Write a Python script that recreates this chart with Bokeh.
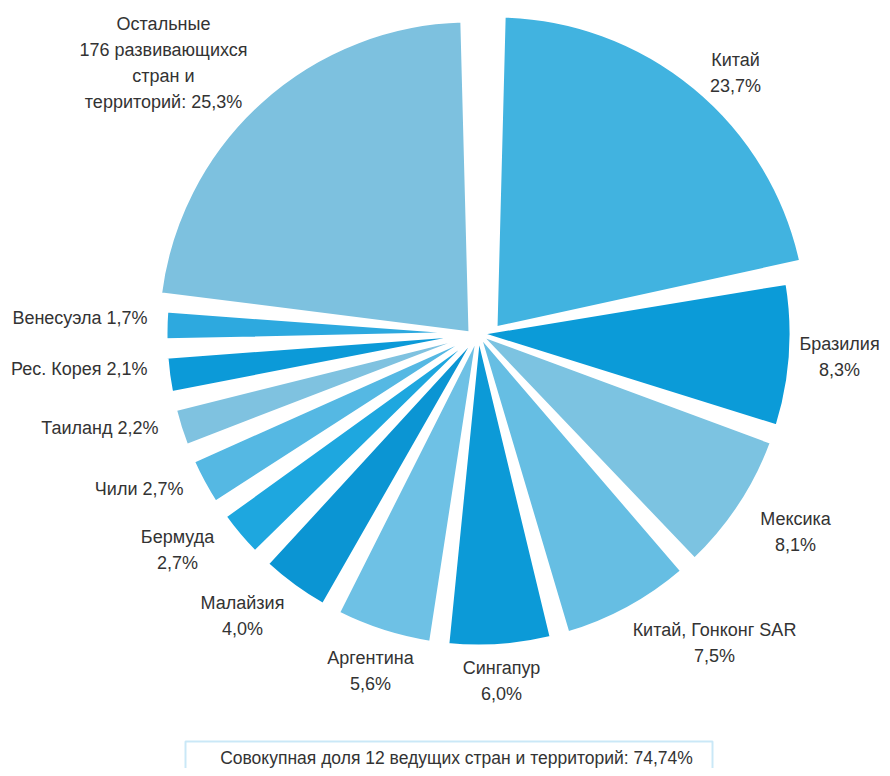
import math
from bokeh.plotting import figure
from bokeh.models import Range1d, ColumnDataSource, BoxAnnotation
from bokeh.core.properties import value
from bokeh.embed import file_html
from bokeh.resources import INLINE

# ---- data ----
countries = ["Китай", "Бразилия", "Мексика", "Китай, Гонконг SAR", "Сингапур",
             "Аргентина", "Малайзия", "Бермуда", "Чили", "Таиланд",
             "Рес. Корея", "Венесуэла", "Остальные 176 развивающихся стран и территорий"]
shares = [23.7, 8.3, 8.1, 7.5, 6.0, 5.6, 4.0, 2.7, 2.7, 2.2, 2.1, 1.7, 25.3]
label_texts = ["Китай\n23,7%", "Бразилия\n8,3%", "Мексика\n8,1%",
               "Китай, Гонконг SAR\n7,5%", "Сингапур\n6,0%", "Аргентина\n5,6%",
               "Малайзия\n4,0%", "Бермуда\n2,7%", "Чили 2,7%", "Таиланд 2,2%",
               "Рес. Корея 2,1%", "Венесуэла 1,7%",
               "Остальные\n176 развивающихся\nстран и\nтерриторий: 25,3%"]
footer_text = "Совокупная доля 12 ведущих стран и территорий: 74,74%"

# ---- styles / layout ----
colors = ["#41b3e0", "#0b9bd8", "#7cc3e1", "#66bee3", "#0c9ad7", "#6ec1e5",
          "#0b95d3", "#1ea7df", "#55b8e3", "#7fc2e0", "#0c9ad8", "#2da9df", "#7dc1df"]
shift_x = [17, 0, 0, 0, 0, 0, 0, 0, 0, 0, 0, 0, -8]
shift_y = [5, 0, 0, 0, 0, 0, 0, 0, 0, 0, 0, 0, 0]
W, H = 882, 768
def px(X):
    return X
def py(Y):
    return -Y
CX, CY, R = px(478), py(333), 313
GAP = 3.0  # degrees between slices

# label anchors (screen px) and alignment
label_pos = [(735, 72, "center"), (839, 356, "center"), (795, 531, "center"),
             (714, 642, "center"), (501, 680, "center"), (370, 670, "center"),
             (242, 615, "center"), (177, 549, "center"), (183, 488, "right"),
             (158, 427, "right"), (147, 368, "right"), (147, 317, "right"),
             (163, 62, "center")]

total = sum(shares)
k = (360.0 - GAP * len(shares)) / total
xs, ys, sa, ea = [], [], [], []
theta = GAP / 2
for v, dx, dy in zip(shares, shift_x, shift_y):
    t0 = theta
    t1 = theta + v * k
    xs.append(CX + dx)
    ys.append(CY + dy)
    sa.append(math.radians(90 - t1))
    ea.append(math.radians(90 - t0))
    theta = t1 + GAP

src = ColumnDataSource(dict(x=xs, y=ys, start=sa, end=ea, color=colors, name=countries))

p = figure(width=W, height=H, output_backend="svg", toolbar_location=None,
           x_range=Range1d(0, W), y_range=Range1d(-H, 0),
           x_axis_location=None, y_axis_location=None, min_border=0)
p.grid.visible = False
p.outline_line_color = None
p.background_fill_color = "white"
p.border_fill_color = "white"

p.wedge(x="x", y="y", radius=R, start_angle="start", end_angle="end",
        direction="anticlock", fill_color="color", line_color="white",
        line_width=4, source=src)

FONT = value("Liberation Sans")
for txt, (X, Y, al) in zip(label_texts, label_pos):
    p.text(x=[px(X)], y=[py(Y)], text=[txt], text_align=al, text_baseline="middle",
           text_font=FONT, text_font_size="18px", text_color="#333333",
           text_line_height=1.3)

box = BoxAnnotation(left=px(185), right=px(712), top=py(741), bottom=py(800),
                    fill_color=None, line_color="#4fb3e3", line_width=2)
p.add_layout(box)
p.text(x=[px(456)], y=[py(757)], text=[footer_text], text_align="center",
       text_baseline="middle", text_font=FONT, text_font_size="17.5px",
       text_color="#333333")

open("out.html", "w").write(file_html(p, INLINE))
